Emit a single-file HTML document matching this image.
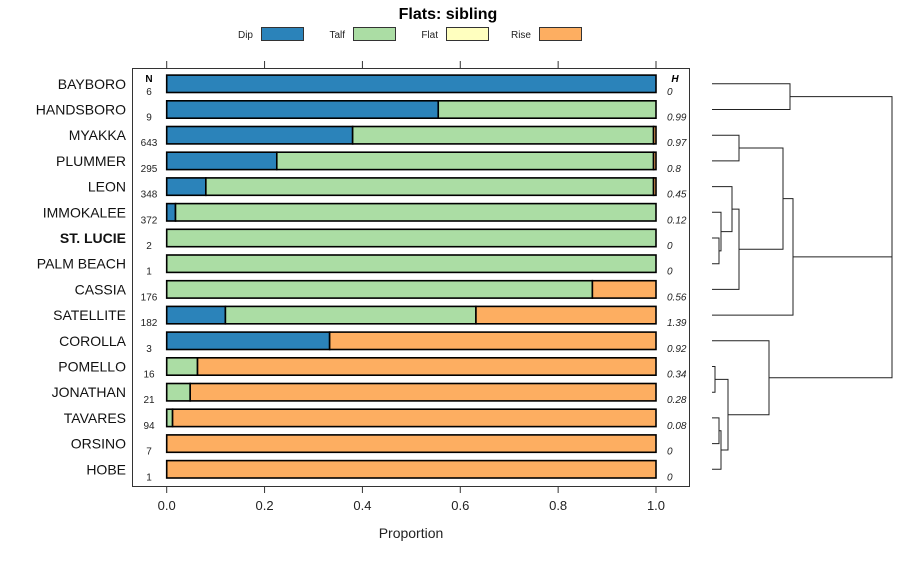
<!DOCTYPE html>
<html><head><meta charset="utf-8"><style>
body{margin:0;background:#fff;}
svg{font-family:"Liberation Sans",sans-serif;}
</style></head><body>
<svg id="chart" width="900" height="560" viewBox="0 0 900 560">
<text x="448" y="19" text-anchor="middle" font-size="16" font-weight="bold">Flats: sibling</text>
<g id="legend"></g>
<rect x="132.5" y="68.5" width="557" height="418" fill="none" stroke="#333" stroke-width="1"/>
<g id="axes"></g>
<g id="bars"></g>
<g id="dendro" fill="none" stroke="#222" stroke-width="1"></g>
<text x="411" y="538" text-anchor="middle" font-size="14" fill="#222">Proportion</text>
</svg>
<script>
const names=["BAYBORO","HANDSBORO","MYAKKA","PLUMMER","LEON","IMMOKALEE","ST. LUCIE","PALM BEACH","CASSIA","SATELLITE","COROLLA","POMELLO","JONATHAN","TAVARES","ORSINO","HOBE"];
const nVals=[6,9,643,295,348,372,2,1,176,182,3,16,21,94,7,1];
const hVals=["0","0.99","0.97","0.8","0.45","0.12","0","0","0.56","1.39","0.92","0.34","0.28","0.08","0","0"];
const dip=[1,0.555,0.38,0.225,0.08,0.018,0,0,0,0.12,0.333,0,0,0,0,0];
const talf=[0,0.445,0.615,0.77,0.915,0.982,1,1,0.87,0.512,0,0.063,0.048,0.012,0,0];
const flat=[0,0,0,0,0,0,0,0,0,0,0,0,0,0,0,0];
const rise=[0,0,0.005,0.005,0.005,0,0,0,0.13,0.368,0.667,0.937,0.952,0.988,1,1];
const classes=["Dip","Talf","Flat","Rise"];
const colors=["#2b83ba","#abdda4","#ffffbf","#fdae61"];
const ticks=[0,0.2,0.4,0.6,0.8,1.0];
const ns="http://www.w3.org/2000/svg";
const X=v=>166.7+v*489.3;
const Y=i=>83.8+i*25.7;
function mk(tag,attrs,parent,txt){const e=document.createElementNS(ns,tag);for(const k in attrs)e.setAttribute(k,attrs[k]);if(txt!==undefined)e.textContent=txt;parent.appendChild(e);return e;}
const leg=document.getElementById('legend');
const legX=[236,328,421,514];
classes.forEach((c,i)=>{
 const t=mk('text',{x:legX[i]+17,y:38,'font-size':10,'text-anchor':'end',fill:'#222'},leg,c);
 
 
 const r=mk('rect',{x:legX[i]+25.5,y:27.5,width:42,height:13,fill:colors[i],stroke:'#333'},leg);
 
 
});
const ax=document.getElementById('axes');
ticks.forEach(t=>{
 const x=X(t);
 const a=mk('line',{x1:x,x2:x,y1:61,y2:68,stroke:'#333'},ax);
 
 
 const b=mk('line',{x1:x,x2:x,y1:487,y2:493,stroke:'#333'},ax);
 
 
 const l=mk('text',{x:x,y:510,'text-anchor':'middle','font-size':13,fill:'#222'},ax,t.toFixed(1));
 
 
});
let h1=mk('text',{x:149,y:82,'text-anchor':'middle','font-size':10,'font-weight':'bold'},ax,'N');


let h2=mk('text',{x:675,y:82,'text-anchor':'middle','font-size':10,'font-weight':'bold','font-style':'italic'},ax,'H');


const bars=document.getElementById('bars');
const series=[dip,talf,flat,rise];
names.forEach((n,i)=>{
 const y=Y(i);
 const lab=mk('text',{x:126,y:y+5,'text-anchor':'end','font-size':14,fill:'#111','font-weight':n==="ST. LUCIE"?'bold':'normal'},bars,n);
 
 
 const nt=mk('text',{x:149,y:y+11,'text-anchor':'middle','font-size':10,fill:'#222'},bars,String(nVals[i]));
 
 
 const ht=mk('text',{x:667,y:y+11,'font-size':10,'font-style':'italic',fill:'#222'},bars,hVals[i]);
 
 
 let cum=0;
 series.forEach((s,k)=>{
  const v=s[i]; if(v<=0)return;
  const r=mk('rect',{x:X(cum),y:y-8.7,width:X(cum+v)-X(cum),height:17.4,fill:colors[k],stroke:'#000','stroke-width':1.6},bars);
  
  
  cum+=v;
 });
});
const leafX=712;
const merges=[[0,1,790],[2,3,739],[6,7,719],[5,"c",721],[4,"d",732],["e",8,739],["b","f",783],["g",9,793],[11,12,715],[13,14,719],["j",15,721],["i","k",728],[10,"l",769],["a","h",892],["m","n",892]];
const mkeys=["a","b","c","d","e","f","g","h","i","j","k","l","m","n","o"];
const dg=document.getElementById('dendro');
const nodes={};
names.forEach((n,i)=>nodes[i]={x:leafX,y:Y(i)});
merges.forEach((m,idx)=>{
 const a=nodes[m[0]],b=nodes[m[1]],x=m[2];
 const p=mk('path',{d:`M${a.x},${a.y}H${x}V${b.y}H${b.x}`},dg);
 
 
 nodes[mkeys[idx]]={x:x,y:(a.y+b.y)/2};
});
</script>
</body></html>
